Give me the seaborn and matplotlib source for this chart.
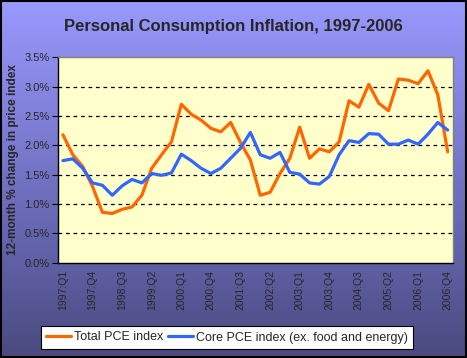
import numpy as np
import pandas as pd
import matplotlib
matplotlib.use("Agg")
import matplotlib.pyplot as plt
from matplotlib.colors import LinearSegmentedColormap
from matplotlib.patches import Rectangle
import seaborn as sns

# quarterly 12-month % change, 1997:Q1 .. 2006:Q4
years = list(range(1997, 2007))
quarters = ["Q1", "Q2", "Q3", "Q4"]
periods = [f"{y}:{q}" for y in years for q in quarters]

total_pce = [2.18, 1.84, 1.64, 1.30, 0.86, 0.84, 0.91, 0.95, 1.15, 1.61,
             1.84, 2.06, 2.70, 2.53, 2.43, 2.29, 2.23, 2.39, 2.05, 1.75,
             1.15, 1.20, 1.52, 1.78, 2.31, 1.78, 1.94, 1.89, 2.06, 2.76,
             2.65, 3.04, 2.72, 2.59, 3.13, 3.11, 3.05, 3.27, 2.86, 1.89]
core_pce = [1.74, 1.77, 1.61, 1.36, 1.32, 1.15, 1.31, 1.42, 1.36, 1.52,
            1.49, 1.53, 1.85, 1.74, 1.61, 1.52, 1.61, 1.78, 1.95, 2.22,
            1.84, 1.78, 1.88, 1.54, 1.51, 1.36, 1.34, 1.47, 1.84, 2.08,
            2.05, 2.20, 2.19, 2.02, 2.02, 2.09, 2.02, 2.19, 2.39, 2.26]

series_names = ["Total PCE index", "Core PCE index (ex. food and energy)"]
series_colors = ["#FF6600", "#3366FF"]

df = pd.DataFrame({"pos": np.arange(len(periods)),
                   series_names[0]: total_pce,
                   series_names[1]: core_pce})
long_df = df.melt(id_vars="pos", var_name="series", value_name="pct")

sns.set_style("white")
plt.rcParams["font.family"] = ["Liberation Sans", "DejaVu Sans"]

fig = plt.figure(figsize=(4.67, 3.58), dpi=100)

# gradient background
bg = fig.add_axes([0, 0, 1, 1], zorder=-5)
cmap = LinearSegmentedColormap.from_list("bg", ["#9999FF", "#7272C4", "#4A4A80"])
bg.imshow(np.linspace(0, 1, 256).reshape(-1, 1), aspect="auto", cmap=cmap,
          extent=[0, 1, 0, 1])
bg.add_patch(Rectangle((0.002, 0.003), 0.996, 0.994, fill=False,
                       edgecolor="black", linewidth=1.5, transform=bg.transAxes))
bg.set_xlim(0, 1)
bg.set_ylim(0, 1)
bg.axis("off")

ax = fig.add_axes([0.1242, 0.266, 0.845, 0.574])
ax.set_facecolor("#FFFFCC")

sns.lineplot(data=long_df, x="pos", y="pct", hue="series",
             palette=series_colors, linewidth=2.3, ax=ax, legend=True)

ax.set_xlim(-0.5, len(periods) - 0.5)
ax.set_ylim(0, 3.5)
ax.set_yticks(np.arange(0, 3.51, 0.5))
ax.set_yticklabels([f"{v:.1f}%" for v in np.arange(0, 3.51, 0.5)], fontsize=8)
for v in np.arange(0.5, 3.01, 0.5):
    ax.axhline(v, color="black", linestyle=(0, (3, 3)), linewidth=0.9, zorder=0)

label_pos = list(range(0, len(periods), 3))
ax.set_xticks(label_pos)
ax.set_xticklabels([periods[i] for i in label_pos], rotation=90, fontsize=7.5)
ax.set_xticks(np.arange(-0.5, len(periods), 1), minor=True)
ax.tick_params(axis="x", which="major", length=0, pad=5)
ax.tick_params(axis="x", which="minor", length=4, width=0.8, color="black",
               direction="out")
ax.tick_params(axis="y", length=4, width=0.8, color="black", direction="out",
               left=True, pad=2)

for side in ["top", "right"]:
    ax.spines[side].set_color("#808080")
    ax.spines[side].set_linewidth(1)
for side in ["left", "bottom"]:
    ax.spines[side].set_color("black")
    ax.spines[side].set_linewidth(1)

ax.set_xlabel("")
ax.set_ylabel("12-month % change in price index", fontsize=8.5,
              fontweight="bold", labelpad=4)

fig.text(0.5, 0.927, "Personal Consumption Inflation, 1997-2006",
         ha="center", va="center", fontsize=12, fontweight="bold")

handles, labels = ax.get_legend_handles_labels()
ax.legend(handles, labels, ncol=2, loc="center",
          bbox_to_anchor=(227 / 467, 1 - 337.5 / 358),
          bbox_transform=fig.transFigure, fontsize=9, frameon=True,
          fancybox=False, edgecolor="black", facecolor="white", framealpha=1,
          handlelength=2.0, handletextpad=0.2, columnspacing=0.4,
          borderpad=0.45, borderaxespad=0)
ax.get_legend().get_frame().set_linewidth(0.8)

fig.savefig("out.png", dpi=100)
